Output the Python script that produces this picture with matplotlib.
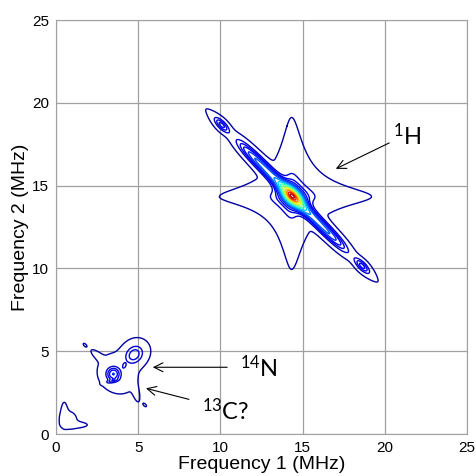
import numpy as np
import matplotlib.pyplot as plt

plt.rcParams['font.family'] = ['Liberation Sans', 'DejaVu Sans']
plt.rcParams['mathtext.fontset'] = 'custom'
plt.rcParams['mathtext.rm'] = 'Lato'
plt.rcParams['mathtext.it'] = 'Lato'

# 1H star: centre, height, Lorentzian widths (negative side, positive side)
star_x, star_y = 14.33, 14.33
star_amp = 0.25
star_wx = (0.56, 0.62)
star_wy = (0.56, 0.61)

# 1H antidiagonal ridge (flat-topped along, gaussian across)
ridge_amp, ridge_len, ridge_sv = 0.21, 4.35, 0.2

# 1H central peak
core_amp, core_su, core_sv = 0.54, 0.60, 0.25

# 1H side peaks on the ridge: narrow peak plus a Lorentzian foot
side_x = [10.08, 18.62]
side_y = [18.66, 10.15]
side_amp = [0.085, 0.085]
side_su = [0.40, 0.40]
side_sv = [0.15, 0.15]
foot_amp = [0.03, 0.03]
foot_wu = [0.5, 0.5]
foot_sv = [0.18, 0.18]

# low-frequency peaks (14N, 13C and the rest): centre, height, widths, angle
low_x = [4.75, 4.90, 3.49, 4.15, 3.38, 3.75, 4.85, 2.55, 1.76, 5.40, 0.50, 1.30, 0.75]
low_y = [4.78, 5.00, 3.62, 4.13, 3.20, 3.65, 2.55, 4.72, 5.37, 1.75, 1.30, 0.55, 0.85]
low_amp = [0.085, 0.010, 0.13, 0.05, 0.05, 0.013, 0.009, 0.009, 0.006, 0.006, 0.008, 0.008, 0.009]
low_su = [0.32, 0.50, 0.27, 0.12, 0.25, 0.85, 0.45, 0.38, 0.14, 0.14, 0.50, 0.50, 0.40]
low_sv = [0.40, 0.50, 0.27, 0.07, 0.07, 0.75, 0.13, 0.13, 0.07, 0.07, 0.14, 0.13, 0.40]
low_ang = [-45, 0, 0, 70, 15, -45, -75, -40, -45, -45, 90, 0, 0]

levels = [0.004, 0.04, 0.07, 0.10, 0.14, 0.18, 0.24, 0.31, 0.39,
          0.48, 0.58, 0.68, 0.78, 0.88, 0.96]

freq = np.linspace(0, 25, 1001)
F1, F2 = np.meshgrid(freq, freq)


def uv(x0, y0, ang):
    a = np.deg2rad(ang)
    dx, dy = F1 - x0, F2 - y0
    return dx * np.cos(a) + dy * np.sin(a), -dx * np.sin(a) + dy * np.cos(a)


dx, dy = F1 - star_x, F2 - star_y
wx = np.where(dx < 0, star_wx[0], star_wx[1])
wy = np.where(dy < 0, star_wy[0], star_wy[1])
Z = star_amp / ((1 + (dx / wx) ** 2) * (1 + (dy / wy) ** 2))
u, v = uv(14.37, 14.37, -45)
Z += ridge_amp * np.exp(-(np.abs(u) / ridge_len) ** 6) * np.exp(-v ** 2 / (2 * ridge_sv ** 2))
Z += core_amp * np.exp(-u ** 2 / (2 * core_su ** 2) - v ** 2 / (2 * core_sv ** 2))
for i in range(len(side_x)):
    u, v = uv(side_x[i], side_y[i], -45)
    Z += side_amp[i] * np.exp(-u ** 2 / (2 * side_su[i] ** 2) - v ** 2 / (2 * side_sv[i] ** 2))
    Z += foot_amp[i] / (1 + (u / foot_wu[i]) ** 2) * np.exp(-v ** 2 / (2 * foot_sv[i] ** 2))
for i in range(len(low_x)):
    u, v = uv(low_x[i], low_y[i], low_ang[i])
    Z += low_amp[i] * np.exp(-u ** 2 / (2 * low_su[i] ** 2) - v ** 2 / (2 * low_sv[i] ** 2))

fig = plt.figure(figsize=(4.77, 4.76), dpi=100)
ax = fig.add_axes([56 / 477, 42 / 476, 411 / 477, 414 / 476])
ax.contour(F1, F2, Z, levels=levels, cmap='jet', vmin=-0.03, vmax=1, linewidths=1.0)

ax.set_xlim(0, 25)
ax.set_ylim(0, 25)
ax.set_xticks(range(0, 26, 5))
ax.set_yticks(range(0, 26, 5))
ax.tick_params(length=0, labelsize=11, pad=5)
ax.grid(True, color='#a0a0a0', lw=0.9)
ax.set_axisbelow(True)
for s in ax.spines.values():
    s.set_color('#a0a0a0')
ax.set_xlabel('Frequency 1 (MHz)', fontsize=14, labelpad=1)
ax.set_ylabel('Frequency 2 (MHz)', fontsize=14, labelpad=2)

arrow = dict(arrowstyle='->', color='black', lw=0.8, mutation_scale=16)
ax.annotate('', xy=(16.87, 15.94), xytext=(20.42, 17.65), arrowprops=arrow)
ax.annotate('', xy=(5.72, 4.03), xytext=(10.58, 4.03), arrowprops=arrow)
ax.annotate('', xy=(5.31, 2.80), xytext=(8.25, 2.05), arrowprops=arrow)
ax.text(20.5, 17.45, r'$^{1}$H', fontsize=17, family='Lato')
ax.text(11.2, 3.44, r'$^{14}$N', fontsize=17, family='Lato')
ax.text(8.88, 0.85, r'$^{13}$C?', fontsize=17, family='Lato')

fig.savefig('out.png', dpi=100)
